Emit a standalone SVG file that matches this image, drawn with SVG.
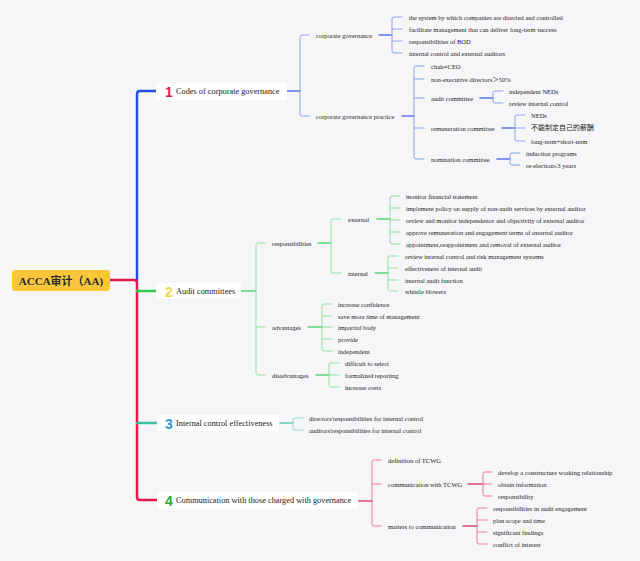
<svg xmlns="http://www.w3.org/2000/svg" width="640" height="561" viewBox="0 0 640 561">
<style>
text{font-family:"Liberation Serif","Noto Sans CJK SC",serif;fill:#222;dominant-baseline:central}
.t{font-size:6.5px}
.n{font-size:8.3px}
.num{font-family:"Liberation Sans",sans-serif;font-weight:bold;font-size:14px}
.root{font-size:11px;font-weight:bold;fill:#2a2a2a}
path{fill:none;stroke-linecap:round;stroke-linejoin:round}
.mb{stroke:#2450e0;stroke-width:2.5}
.mr{stroke:#e8194a;stroke-width:2.5}
.mg{stroke:#30cc4c;stroke-width:2.5}
.mt{stroke:#3cc0a0;stroke-width:2.5}
.b{stroke:#8ea2ec;stroke-width:1}
.bh{stroke:#5a78e4;stroke-width:1.5}
.g{stroke:#8fe0a2;stroke-width:1}
.gh{stroke:#5ad678;stroke-width:1.5}
.c{stroke:#94dccb;stroke-width:1}
.ch{stroke:#60ccb2;stroke-width:1.5}
.r{stroke:#ea7aa0;stroke-width:1}
.rh{stroke:#e04a7c;stroke-width:1.5}
.box{fill:#ffffff}
</style>
<rect width="640" height="561" fill="#f6f6f8"/>
<g id="connectors">
<path class="mb" d="M137 281 V94 Q137 91 140 91 H156"/>
<path class="mr" d="M110 280 H134 Q137 280 137 283 V497 Q137 500 140 500 H157"/>
<path class="mg" d="M137 291 H156"/>
<path class="mt" d="M137 423 H157"/>
<!-- branch 1 -->
<path class="bh" d="M287 91 H300"/>
<path class="b" d="M309 35 H302 Q300 35 300 37 V114 Q300 116 302 116 H309"/>
<path class="bh" d="M379 35 H392"/>
<path class="b" d="M402 17 H394 Q392 17 392 19 V51 Q392 53 394 53 H402 M392 29 H402 M392 41 H402"/>
<path class="bh" d="M402 116 H414"/>
<path class="b" d="M424 66 H416 Q414 66 414 68 V157 Q414 159 416 159 H424 M414 79 H424 M414 98 H424 M414 128 H424"/>
<path class="bh" d="M480 98 H493"/>
<path class="b" d="M503 91 H495 Q493 91 493 93 V101 Q493 103 495 103 H503"/>
<path class="bh" d="M502 128 H515"/>
<path class="b" d="M525 115 H517 Q515 115 515 117 V139 Q515 141 517 141 H525 M515 128 H525"/>
<path class="bh" d="M497 159 H510"/>
<path class="b" d="M520 153 H512 Q510 153 510 155 V163 Q510 165 512 165 H520"/>
<!-- branch 2 -->
<path class="gh" d="M241 291 H256"/>
<path class="g" d="M265 243 H258 Q256 243 256 245 V373 Q256 375 258 375 H265 M256 327 H265"/>
<path class="gh" d="M318 243 H331"/>
<path class="g" d="M341 219 H333 Q331 219 331 221 V271 Q331 273 333 273 H341"/>
<path class="gh" d="M377 219 H390"/>
<path class="g" d="M400 196 H392 Q390 196 390 198 V242 Q390 244 392 244 H400 M390 208 H400 M390 220 H400 M390 232 H400"/>
<path class="gh" d="M375 273 H388"/>
<path class="g" d="M398 256 H390 Q388 256 388 258 V289 Q388 291 390 291 H398 M388 268 H398 M388 280 H398"/>
<path class="gh" d="M308 327 H322"/>
<path class="g" d="M332 304 H324 Q322 304 322 306 V349 Q322 351 324 351 H332 M322 316 H332 M322 327 H332 M322 339 H332"/>
<path class="gh" d="M316 375 H329"/>
<path class="g" d="M339 363 H331 Q329 363 329 365 V385 Q329 387 331 387 H339 M329 375 H339"/>
<!-- branch 3 -->
<path class="ch" d="M280 423 H293"/>
<path class="c" d="M303 418 H295 Q293 418 293 420 V428 Q293 430 295 430 H303"/>
<!-- branch 4 -->
<path class="rh" d="M358 501 H372"/>
<path class="r" d="M381 460 H374 Q372 460 372 462 V524 Q372 526 374 526 H381 M372 484 H381"/>
<path class="rh" d="M468 484 H483"/>
<path class="r" d="M492 472 H485 Q483 472 483 474 V494 Q483 496 485 496 H492 M483 484 H492"/>
<path class="rh" d="M463 526 H477"/>
<path class="r" d="M487 508 H479 Q477 508 477 510 V542 Q477 544 479 544 H487 M477 520 H487 M477 532 H487"/>
</g>
<g id="root">
<rect x="12" y="270" width="98" height="21" rx="3" fill="#fcc63b"/>
<text class="root" x="61" y="281" text-anchor="middle">ACCA审计（AA)</text>
</g>
<g id="node1">
<rect class="box" x="156" y="83" width="131" height="17" rx="2"/>
<text class="num" x="165" y="92" fill="#d81e4a" style="fill:#d81e4a">1</text>
<text class="n" x="176" y="91">Codes of corporate governance</text>
</g>
<g id="node2">
<rect class="box" x="156" y="283" width="85" height="16" rx="2"/>
<text class="num" x="165" y="292" style="fill:#f2d84a">2</text>
<text class="n" x="176" y="291">Audit committees</text>
</g>
<g id="node3">
<rect class="box" x="157" y="415" width="122" height="16" rx="2"/>
<text class="num" x="165" y="424" style="fill:#2a9ae0">3</text>
<text class="n" x="176" y="423">Internal control effectiveness</text>
</g>
<g id="node4">
<rect class="box" x="157" y="492" width="201" height="17" rx="2"/>
<text class="num" x="165" y="501" style="fill:#28a83a">4</text>
<text class="n" x="176" y="500.5">Communication with those charged with governance</text>
</g>
<g id="b1-nodes">
<text class="t" x="316" y="35">corporate governance</text>
<text class="t" x="409" y="17">the system by which companies are directed and controlled</text>
<text class="t" x="409" y="29">facilitate management that can deliver long-term success</text>
<text class="t" x="409" y="41">responsibilities of BOD</text>
<text class="t" x="409" y="53">internal control and external auditors</text>
<text class="t" x="316" y="116">corporate governance practice</text>
<text class="t" x="431" y="66">chair≠CEO</text>
<text class="t" x="431" y="79">non-executive directors＞50%</text>
<text class="t" x="431" y="98">audit committee</text>
<text class="t" x="509" y="91">independent NEDs</text>
<text class="t" x="509" y="103">review internal control</text>
<text class="t" x="431" y="128">remuneration committee</text>
<text class="t" x="531" y="115">NEDs</text>
<text class="t" x="531" y="128" style="font-size:7px">不能制定自己的薪酬</text>
<text class="t" x="531" y="141">long-term+short-term</text>
<text class="t" x="431" y="159">nomination committee</text>
<text class="t" x="526" y="153">induction programs</text>
<text class="t" x="526" y="165">re-election≤3 years</text>
</g>
<g id="b2-nodes">
<text class="t" x="272" y="243">responsibilities</text>
<text class="t" x="348" y="219">external</text>
<text class="t" x="406" y="196">monitor financial statement</text>
<text class="t" x="406" y="208">implement policy on supply of non-audit services by external auditor</text>
<text class="t" x="406" y="220">review and monitor independence and objectivity of external auditor</text>
<text class="t" x="406" y="232">approve remuneration and engagement terms of external auditor</text>
<text class="t" x="406" y="244">appointment,reappointment and removal of external auditor</text>
<text class="t" x="348" y="273">internal</text>
<text class="t" x="405" y="256">review internal control and risk management systems</text>
<text class="t" x="405" y="268">effectiveness of internal audit</text>
<text class="t" x="405" y="280">internal audit function</text>
<text class="t" x="405" y="291">whistle blowers</text>
<text class="t" x="272" y="327">advantages</text>
<text class="t" x="338" y="304">increase confidence</text>
<text class="t" x="338" y="316">save more time of management</text>
<text class="t" x="338" y="327">impartial body</text>
<text class="t" x="338" y="339">provide</text>
<text class="t" x="338" y="351">independent</text>
<text class="t" x="272" y="375">disadvantages</text>
<text class="t" x="345" y="363">difficult to select</text>
<text class="t" x="345" y="375">formalized reporting</text>
<text class="t" x="345" y="387">increase costs</text>
</g>
<g id="b3-nodes">
<text class="t" x="309" y="418">directors'responsibilities for internal control</text>
<text class="t" x="309" y="430">auditors'responsibilities for internal control</text>
</g>
<g id="b4-nodes">
<text class="t" x="388" y="460">definition of TCWG</text>
<text class="t" x="388" y="484">communication with TCWG</text>
<text class="t" x="498" y="472">develop a constructure working relationship</text>
<text class="t" x="498" y="484">obtain information</text>
<text class="t" x="498" y="496">responsibility</text>
<text class="t" x="388" y="526">matters to communication</text>
<text class="t" x="493" y="508">responsibilities in audit engagement</text>
<text class="t" x="493" y="520">plan scope and time</text>
<text class="t" x="493" y="532">significant findings</text>
<text class="t" x="493" y="544">conflict of interest</text>
</g>
</svg>
